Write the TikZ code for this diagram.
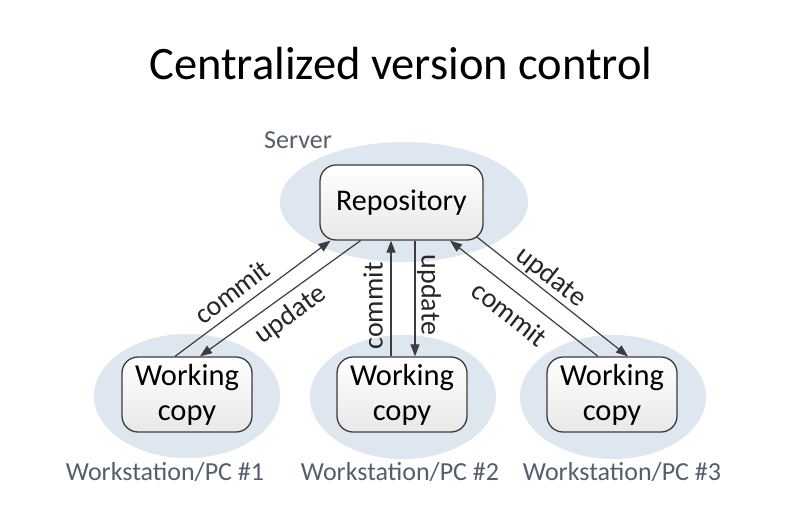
\documentclass[tikz,border=0pt]{standalone}
\usepackage{fontspec}
\setmainfont{Carlito}
\usetikzlibrary{arrows.meta,calc,shapes.geometric}
\definecolor{glow}{RGB}{222,230,240}
\definecolor{ln}{RGB}{60,60,60}
\definecolor{lbl}{RGB}{85,95,108}
\begin{document}
\begin{tikzpicture}[x=1pt,y=-1pt,
  glowell/.style={ellipse, fill=glow, draw=none, inner sep=0pt},
  box/.style={draw=ln, line width=1.3pt, rounded corners=16pt, top color=white, bottom color=black!9, align=center, inner sep=0pt},
  repobox/.style={box, minimum width=163pt, minimum height=75pt, font=\fontsize{30}{34}\selectfont},
  wcbox/.style={box, minimum width=130pt, minimum height=75pt, font=\fontsize{30.5}{35}\selectfont},
  conn/.style={draw=ln, line width=1.2pt, -{Triangle[length=12pt,width=9pt]}},
  alabel/.style={font=\fontsize{28}{30}\selectfont, text=black!85, inner sep=0pt},
  place/.style={font=\fontsize{26}{28}\selectfont, text=lbl, inner sep=0pt}
]
\useasboundingbox (0,0) rectangle (789,514);
\fill[white] (0,0) rectangle (789,514);

\node[font=\fontsize{46.5}{50}\selectfont, anchor=base] (title) at (401,79) {Centralized version control};

% glows
\node[glowell, minimum width=248pt, minimum height=120pt] (sglow) at (404,202) {};
\node[glowell, minimum width=186pt, minimum height=124pt] (g1) at (187,396) {};
\node[glowell, minimum width=186pt, minimum height=124pt] (g2) at (403,397) {};
\node[glowell, minimum width=186pt, minimum height=124pt] (g3) at (613,397) {};

\node[place, anchor=base] (server) at (298,148) {Server};

% boxes
\node[repobox] (repo) at (401.5,202.5) {Repository};
\node[wcbox] (wc1) at (187,394.5) {Working\\copy};
\node[wcbox] (wc2) at (402,394.5) {Working\\copy};
\node[wcbox] (wc3) at (612,394.5) {Working\\copy};

\node[place, anchor=base] (pc1) at (165,480) {Workstation/PC \#1};
\node[place, anchor=base] (pc2) at (400,480) {Workstation/PC \#2};
\node[place, anchor=base] (pc3) at (622,480) {Workstation/PC \#3};

% connectors pair 1
\draw[conn] ($(wc1.north)+(-12,0)$) -- ($(repo.south)+(-71,0)$);
\draw[conn] ($(repo.south)+(-41,0)$) -- ($(wc1.north)+(13,0)$);
% pair 2
\draw[conn] ($(wc2.north)+(-11,0)$) -- ($(repo.south)+(-10.5,0)$);
\draw[conn] ($(repo.south)+(13.5,0)$) -- ($(wc2.north)+(13,0)$);
% pair 3
\draw[conn] ($(wc3.north)+(-14,0)$) -- ($(repo.south)+(48.5,0)$);
\draw[conn] ($(repo.south)+(75,-4)$) -- ($(wc3.north)+(16,0)$);

% labels
\node[alabel, rotate=37] (c1) at (232,292) {commit};
\node[alabel, rotate=36] (u1) at (291,315) {update};
\node[alabel, rotate=90] (c2) at (373,306) {commit};
\node[alabel, rotate=-90] (u2) at (429,295) {update};
\node[alabel, rotate=-38] (u3) at (551,277) {update};
\node[alabel, rotate=-38] (c3) at (510,314) {commit};
\end{tikzpicture}
\end{document}
